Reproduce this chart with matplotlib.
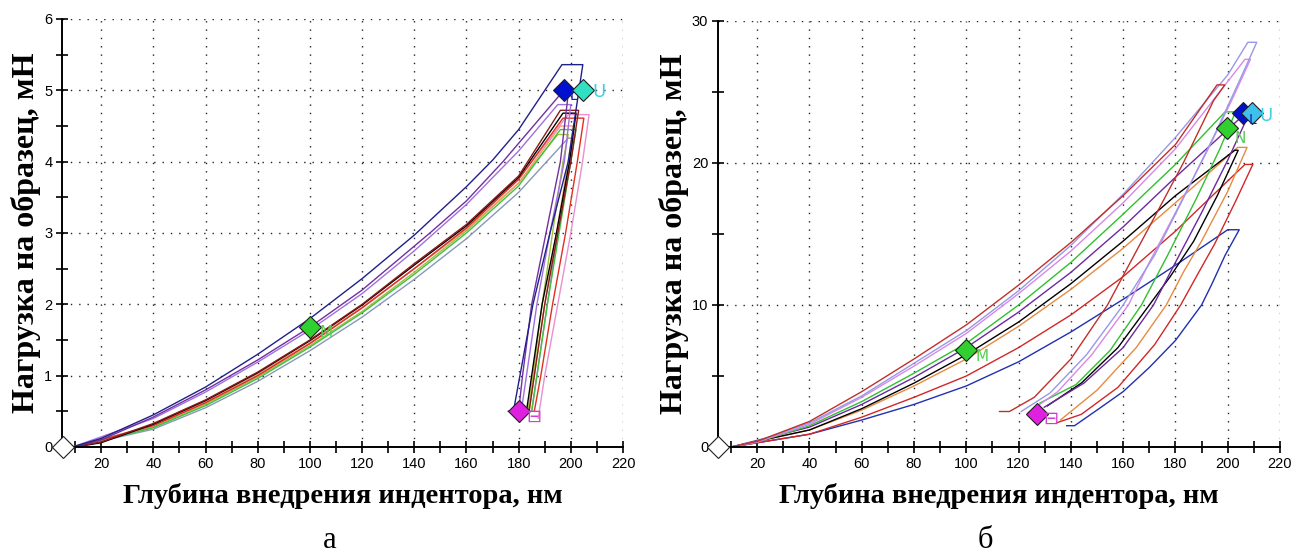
import matplotlib.pyplot as plt
from matplotlib.ticker import MultipleLocator

# кривые нагружения-разгрузки (глубина, нм ; нагрузка, мН), образец а
a_navy = [(9, 0), (20, 0.12), (40, 0.45), (60, 0.84), (80, 1.3), (100, 1.8), (120, 2.36), (140, 2.97),
          (160, 3.65), (170, 4.02), (180, 4.45), (196.6, 5.36), (204.6, 5.36), (199, 4.0), (192, 3.0),
          (185.5, 2.0), (180.5, 1.0), (178, 0.5), (176, 0.5)]
a_purple = [(9, 0), (20, 0.1), (40, 0.42), (60, 0.8), (80, 1.22), (100, 1.68), (120, 2.2), (146, 3.0),
            (160, 3.45), (174, 4.0), (197.3, 5.0), (199, 4.95), (196, 4.0), (190.5, 3.0), (185, 2.0),
            (181.5, 1.0), (180, 0.5)]
a_violet = [(9, 0), (40, 0.4), (60, 0.77), (80, 1.19), (100, 1.64), (120, 2.15), (140, 2.75), (160, 3.4),
            (180, 4.15), (195, 4.8), (200, 4.8), (197.5, 4.0), (192, 3.0), (187, 2.0), (183, 1.0), (181, 0.5)]
a_darkred = [(10, 0), (20, 0.07), (40, 0.33), (60, 0.66), (80, 1.05), (100, 1.5), (120, 2.0), (140, 2.57),
             (160, 3.12), (180, 3.8), (196, 4.72), (203, 4.72), (200, 4.0), (195, 3.0), (190, 2.0),
             (186, 1.0), (184, 0.5)]
a_black = [(10, 0), (20, 0.06), (40, 0.32), (60, 0.65), (80, 1.04), (100, 1.49), (120, 1.99), (140, 2.55),
           (160, 3.1), (180, 3.78), (197, 4.68), (202, 4.68), (199.5, 4.0), (194.5, 3.0), (189, 2.0),
           (185, 1.0), (183, 0.5)]
a_red = [(10, 0), (40, 0.3), (60, 0.62), (80, 1.0), (100, 1.45), (120, 1.95), (140, 2.5), (160, 3.07),
         (180, 3.75), (197, 4.61), (205, 4.61), (202.5, 4.0), (198, 3.0), (193, 2.0), (188.5, 1.0), (186, 0.5)]
a_pink = [(10, 0), (40, 0.3), (60, 0.62), (80, 1.0), (100, 1.45), (120, 1.95), (140, 2.5), (160, 3.07),
          (180, 3.76), (199, 4.66), (207, 4.66), (204.5, 4.0), (200, 3.0), (195, 2.0), (190, 1.0), (187.5, 0.4)]
a_orange = [(10, 0), (40, 0.31), (60, 0.63), (80, 1.02), (100, 1.46), (120, 1.96), (140, 2.5), (160, 3.05),
            (180, 3.7), (196, 4.5), (201, 4.5), (199, 4.0), (194.5, 3.0), (190, 2.0), (186, 1.0), (184, 0.5)]
a_green = [(10, 0), (40, 0.27), (60, 0.58), (80, 0.96), (100, 1.4), (120, 1.88), (140, 2.42), (160, 3.0),
           (180, 3.66), (196, 4.45), (202, 4.45), (200, 4.0), (195.5, 3.0), (191, 2.0), (187, 1.0), (185, 0.5)]
a_olive = [(10, 0), (40, 0.28), (60, 0.6), (80, 0.98), (100, 1.42), (120, 1.9), (140, 2.45), (160, 3.03),
           (180, 3.7), (195, 4.38), (199, 4.38), (197, 4.0), (193, 3.0), (189, 2.0), (185.5, 1.0), (183.5, 0.5)]
a_grey = [(10, 0), (40, 0.25), (60, 0.55), (80, 0.92), (100, 1.35), (120, 1.82), (140, 2.35), (160, 2.92),
          (180, 3.57), (199, 4.33), (201, 4.33), (199.5, 4.0), (195, 3.0), (191, 2.0), (187, 1.0), (185, 0.5)]

# образец б
b_brick = [(10, 0), (20, 0.4), (40, 1.8), (60, 3.9), (80, 6.2), (100, 8.6), (120, 11.4), (140, 14.4),
           (160, 17.7), (180, 21.3), (195.9, 25.5), (198.9, 25.5), (194.6, 24.4), (183, 20), (170, 15.5),
           (154, 10), (140, 6.2), (126, 3.5), (116.5, 2.5), (112.7, 2.5)]
b_lavender = [(10, 0), (20, 0.4), (40, 1.7), (60, 3.6), (80, 5.9), (100, 8.2), (120, 11.0), (140, 14.2),
              (160, 17.8), (180, 21.8), (200, 26.2), (207.7, 28.5), (211.1, 28.5), (205, 26), (195, 22),
              (183, 17.5), (172, 13.5), (160, 10), (146, 6.5), (132, 3.8), (121, 2.5)]
b_orchid = [(10, 0), (20, 0.35), (40, 1.6), (60, 3.5), (80, 5.7), (100, 8.0), (120, 10.8), (140, 13.8),
            (160, 17.2), (180, 21.0), (206.6, 27.3), (208.7, 27.3), (202, 24.6), (192, 20.8), (180, 16.5),
            (170, 13), (162, 10), (148, 6.5), (135, 3.9), (123.5, 2.4)]
b_green = [(10, 0), (20, 0.35), (40, 1.5), (60, 3.2), (80, 5.2), (100, 7.3), (120, 10.0), (140, 13.0),
           (160, 16.4), (180, 19.9), (199, 23.6), (203, 23.6), (197, 21), (188, 17.5), (177, 13.5),
           (167, 10), (155, 6.8), (142, 4.4), (128.2, 3.1)]
b_purple = [(10, 0), (40, 1.4), (60, 3.0), (80, 4.9), (100, 7.0), (120, 9.5), (140, 12.3), (160, 15.5),
            (180, 19.0), (205, 23.2), (207.5, 23.2), (200, 20.2), (190, 16.5), (180, 13), (171.6, 10),
            (160, 7.0), (145, 4.5), (129.8, 2.8)]
b_black = [(10, 0), (40, 1.2), (60, 2.7), (80, 4.5), (100, 6.5), (120, 8.8), (140, 11.5), (160, 14.5),
           (180, 17.7), (202.7, 20.9), (204, 20.9), (196, 17.7), (187, 14.5), (178, 12), (170, 10),
           (158, 7), (144, 4.5), (131, 2.9)]
b_orange = [(10, 0), (40, 1.2), (60, 2.6), (80, 4.3), (100, 6.2), (120, 8.5), (140, 11.1), (160, 14.0),
            (180, 17.2), (203.8, 21.1), (207.4, 21.1), (200, 18), (190, 14.5), (183, 12.3), (176.5, 10),
            (165, 7), (150, 4), (136, 1.9)]
b_red = [(10, 0), (40, 0.9), (60, 2.1), (80, 3.5), (100, 5.0), (120, 7.0), (140, 9.3), (160, 12.0),
         (180, 15.2), (206.6, 19.9), (209.6, 19.9), (203, 17.3), (195, 14.3), (188, 12), (182, 10),
         (172, 7.2), (158, 4.2), (144, 2.3), (134.5, 1.7)]
b_blue = [(10, 0), (40, 0.9), (60, 1.9), (80, 3.0), (100, 4.3), (120, 6.0), (140, 8.1), (160, 10.4),
          (180, 12.8), (200, 15.3), (204.4, 15.3), (199, 13.5), (194, 11.5), (190, 10), (180, 7.5),
          (170, 5.6), (160, 3.9), (150, 2.6), (141.4, 1.5), (138.4, 1.5)]

# характерные точки: начало, середина нагружения, максимум, конец разгрузки
a_start = (5.5, 0)
a_mid = (100, 1.68)
a_max_l = (197.3, 5.0)
a_max_u = (204.6, 5.0)
a_end = (180, 0.5)
a_end_box = (185, 0.42)

b_start = (5, 0)
b_mid = (100, 6.8)
b_max_n = (199.7, 22.5)
b_max_l = (205.9, 23.5)
b_max_u = (209.3, 23.5)
b_end = (127, 2.3)
b_end_box = (131.5, 1.95)

curves_a = [(a_grey, '#8898b8'), (a_olive, '#a0c040'), (a_green, '#40c040'), (a_orange, '#f0a060'),
            (a_pink, '#e890d0'), (a_red, '#e03020'), (a_black, 'black'), (a_darkred, '#8b1a1a'),
            (a_violet, '#a070e0'), (a_purple, '#7030a0'), (a_navy, '#20208a')]
curves_b = [(b_blue, '#2030b0'), (b_red, '#d02828'), (b_orange, '#e88a40'), (b_black, 'black'),
            (b_purple, '#6a2aa0'), (b_green, '#30c030'), (b_orchid, '#d888e8'), (b_lavender, '#9898e8'),
            (b_brick, '#c0302a')]

fig = plt.figure(figsize=(12.95, 5.56), dpi=100)
ax_a = fig.add_axes([62 / 1295, 109 / 556, 561 / 1295, 428 / 556])
ax_b = fig.add_axes([718 / 1295, 109 / 556, 562 / 1295, 426 / 556])


def style_axes(ax, ymax, ystep):
    ax.set_xlim(5, 220)
    ax.set_ylim(0, ymax)
    ax.xaxis.set_major_locator(MultipleLocator(20))
    ax.xaxis.set_minor_locator(MultipleLocator(10))
    ax.yaxis.set_major_locator(MultipleLocator(ystep))
    ax.yaxis.set_minor_locator(MultipleLocator(ystep / 2))
    for side in ['top', 'right']:
        ax.spines[side].set_visible(False)
    for side in ['left', 'bottom']:
        ax.spines[side].set_linewidth(1.4)
    ax.tick_params(which='both', direction='inout', length=8, width=1.2, labelsize=10.5, pad=3)
    for lbl in ax.get_xticklabels() + ax.get_yticklabels():
        lbl.set_family('Liberation Sans')
    ax.grid(True, which='major', color='#222222', linestyle=(0, (1, 5)), linewidth=1.0)
    ax.set_axisbelow(True)
    ax.set_xlabel('Глубина внедрения индентора, нм', family='Liberation Serif', fontweight='bold',
                  fontsize=20.5, labelpad=9)
    ax.set_ylabel('Нагрузка на образец, мН', family='Liberation Serif', fontweight='bold',
                  fontsize=23, labelpad=2)


def draw_curves(ax, curves):
    for pts, color in curves:
        h = [p[0] for p in pts]
        p = [p[1] for p in pts]
        ax.plot(h, p, color=color, linewidth=1.0)


def diamond(ax, pt, face, size=11):
    ax.plot([pt[0]], [pt[1]], marker='D', markersize=size, markerfacecolor=face,
            markeredgecolor='#202020', markeredgewidth=0.8, linestyle='', clip_on=False, zorder=5)


def mark_text(ax, pt, s, color, size=12):
    ax.text(pt[0], pt[1], s, color=color, fontsize=size, family='DejaVu Sans',
            ha='left', va='center', zorder=6)


style_axes(ax_a, 6, 1)
style_axes(ax_b, 30, 10)
draw_curves(ax_a, curves_a)
draw_curves(ax_b, curves_b)

# маркеры на графике а
diamond(ax_a, a_start, 'white')
diamond(ax_a, a_mid, '#30d030')
mark_text(ax_a, (a_mid[0] + 3.5, a_mid[1] - 0.07), 'M', '#50d050', 11)
diamond(ax_a, a_max_l, '#0010d0')
mark_text(ax_a, (a_max_l[0] + 2.2, a_max_l[1] - 0.08), 'L', '#1020c0', 10)
diamond(ax_a, a_max_u, '#30e0c0')
mark_text(ax_a, (a_max_u[0] + 3.5, a_max_u[1] - 0.02), 'U', '#40d0e0', 13)
diamond(ax_a, a_end, '#e020e0')
mark_text(ax_a, (a_end_box[0] - 2, a_end_box[1]), '⊟', '#d040d0', 13)

# маркеры на графике б
diamond(ax_b, b_start, 'white')
diamond(ax_b, b_mid, '#30d030')
mark_text(ax_b, (b_mid[0] + 3.5, b_mid[1] - 0.4), 'M', '#50d050', 11)
diamond(ax_b, b_max_n, '#30d030')
mark_text(ax_b, (b_max_n[0] + 3, b_max_n[1] - 0.8), 'N', '#50d050', 11)
diamond(ax_b, b_max_l, '#0010d0')
mark_text(ax_b, (b_max_l[0] + 2.0, b_max_l[1] - 0.5), 'L', '#1020c0', 10)
diamond(ax_b, b_max_u, '#40c0e8')
mark_text(ax_b, (b_max_u[0] + 3, b_max_u[1] - 0.2), 'U', '#40d0e0', 13)
diamond(ax_b, b_end, '#e020e0')
mark_text(ax_b, (b_end_box[0] - 2, b_end_box[1]), '⊟', '#d040d0', 13)

fig.text(330 / 1295, 1 - 540 / 556, 'а', family='Liberation Serif', fontsize=22, ha='center', va='center')
fig.text(985 / 1295, 1 - 540 / 556, 'б', family='Liberation Serif', fontsize=22, ha='center', va='center')

fig.savefig('out.png', dpi=100)
